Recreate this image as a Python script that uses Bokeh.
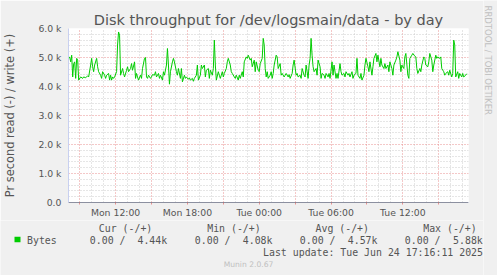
import math
from bokeh.plotting import figure
from bokeh.layouts import column, row
from bokeh.models import Range1d, FixedTicker, Span
from bokeh.core.properties import value
from bokeh.embed import file_html
from bokeh.resources import INLINE

# ---- data (minutes after Mon 08:00, bytes per second written) ----
minutes = [5, 10, 15, 20, 25, 30, 35, 40, 45, 50, 55, 65, 75, 80, 90, 100, 105, 115, 120, 125,
           130, 135, 145, 150, 155, 165, 170, 175, 185, 190, 195, 205, 210, 215, 220, 225, 230, 235, 245, 250,
           255, 260, 265, 275, 280, 285, 295, 300, 305, 315, 320, 325, 335,
           340, 345, 350, 355, 365, 370, 375, 385, 390, 395, 400, 405, 415, 420, 425, 435, 440, 445, 455,
           460, 465, 475, 480, 485, 495, 500, 505, 510, 515, 525, 530, 535, 545, 550, 555, 565, 570, 575,
           585, 590, 595, 605, 610, 615, 625, 630, 635, 645, 650, 655, 665, 670,
           675, 685, 690, 695, 705, 710, 715, 725, 730, 735, 740, 745, 755, 760, 765, 775, 780, 785, 795,
           800, 805, 815, 820, 825, 835, 840, 845, 855, 860, 865, 875, 880, 885, 895, 900, 905, 915, 920,
           925, 935, 940, 945, 955, 960, 965, 975, 980, 985, 990, 995, 1000, 1005, 1015, 1020,
           1025, 1030, 1035, 1045, 1050, 1055, 1065, 1070, 1075, 1085, 1090, 1095, 1105, 1110, 1115, 1125,
           1130, 1135, 1145, 1150, 1155, 1165, 1170, 1175, 1185, 1190, 1195, 1205, 1210, 1215, 1220, 1225,
           1230, 1235, 1245, 1250, 1255, 1265, 1270, 1275, 1285, 1290, 1295, 1305, 1310, 1315, 1325, 1330,
           1335, 1345, 1350, 1355,
           1365, 1370, 1375, 1385, 1390, 1395, 1405, 1410, 1415, 1425, 1430, 1435, 1445, 1450, 1455, 1465,
           1470, 1475, 1485, 1490, 1495, 1505, 1510, 1515, 1525, 1530, 1535, 1545, 1550, 1555, 1565, 1570,
           1575, 1585, 1590, 1595, 1605, 1610, 1615, 1625, 1630, 1635, 1645, 1650, 1655, 1665, 1670, 1675,
           1685, 1690,
           1695, 1705, 1710, 1715, 1725, 1730, 1735, 1745, 1750, 1755, 1765, 1770, 1775, 1785, 1790, 1795,
           1805, 1810, 1815, 1825, 1830, 1835, 1845, 1850, 1855, 1865, 1870, 1875, 1885, 1890, 1895, 1905,
           1910, 1915, 1925, 1930, 1935, 1940, 1945, 1955, 1960, 1965, 1975, 1980, 1985, 1995, 2000]

write_bytes = [4970, 5020, 4850, 5080, 4330, 4790, 4850, 4280, 4970, 4910, 4220, 4330, 4280, 4330, 4300, 4370, 4330, 4740, 4970, 4680,
               4510, 4740, 4970, 4680, 4510, 4390, 4280, 4510, 4390, 4280, 4390, 4450, 4220, 4390, 4220, 4330, 4280, 4330, 4510, 5430,
               5880, 5770, 4390, 4620, 4450, 4330, 4560, 4680, 4510, 4620, 4790, 4560, 4850,
               4280, 4450, 4330, 4220, 4390, 4280, 4620, 4970, 5000, 4330, 4280, 4390, 4280, 4330, 4410, 4390, 4510, 4330, 4450,
               4280, 4390, 4220, 4510, 4390, 4740, 5310, 4740, 4080, 4510, 4850, 4970, 4850, 4510, 4390, 4620, 4280, 4620, 4160,
               4390, 4280, 4330, 4250, 4300, 4220, 4280, 4180, 4280, 4390, 4740, 4220, 4390, 4740,
               4620, 4740, 4330, 4560, 4620, 4280, 4560, 4390, 4620, 5600, 4740, 4220, 4510, 4390, 4280, 4510, 4330, 4450, 4620,
               4850, 4970, 4740, 4510, 4450, 4330, 4280, 4390, 4220, 4390, 4280, 4510, 4330, 4850, 5020, 4970, 5080, 4910, 4970,
               4680, 4910, 4510, 4850, 4560, 4510, 4790, 4970, 5660, 5430, 4620, 4330, 4510, 4280, 4390, 4510,
               4280, 4450, 4740, 5080, 5020, 4620, 4790, 4390, 4450, 4330, 4390, 4450, 4330, 4410, 4280, 4450,
               4740, 4910, 4390, 4450, 4330, 4390, 4280, 4620, 4390, 4330, 4740, 4280, 4740, 4970, 5660, 5080,
               4680, 4510, 4620, 4390, 4910, 4680, 4280, 4450, 4390, 4280, 4450, 4330, 4450, 4280, 4850, 4390,
               4740, 4280, 4450, 4280,
               4790, 4510, 4390, 4450, 4330, 4510, 4390, 4450, 4330, 4510, 4280, 4390, 4450, 4970, 4390, 4280,
               4450, 4220, 4390, 4740, 4970, 4680, 4510, 4850, 4390, 4680, 4970, 5140, 4850, 5080, 4680, 4970,
               4740, 4620, 4790, 4620, 4740, 4510, 4850, 4620, 4390, 4740, 4910, 5020, 5200, 4910, 4510, 4740,
               4620, 5020,
               5140, 4390, 4280, 4970, 5080, 5140, 5080, 5020, 4620, 4450, 4620, 4510, 4740, 5020, 4970, 4740,
               4680, 4850, 5140, 4910, 4510, 4740, 5080, 4970, 5020, 4970, 5020, 4620, 4510, 4390, 4450, 4510,
               4390, 4560, 4330, 4450, 5600, 5430, 4330, 4510, 4280, 4450, 4330, 4450, 4330, 4390, 4440]

x_major_ticks = [60, 240, 420, 600, 780, 960, 1140, 1320, 1500, 1680, 1860]
x_tick_labels = ["", "Mon 12:00", "", "Mon 18:00", "", "Tue 00:00", "", "Tue 06:00", "", "Tue 12:00", ""]
x_minor_ticks = [m for m in range(60, 2010, 60) if m not in x_major_ticks]

y_major_ticks = [0, 1000, 2000, 3000, 4000, 5000, 6000]
y_tick_labels = ["0.0", "1.0 k", "2.0 k", "3.0 k", "4.0 k", "5.0 k", "6.0 k"]
y_minor_ticks = [v for v in range(200, 6000, 200) if v % 1000 != 0]

title_text = "Disk throughput for /dev/logsmain/data - by day"
ylabel_text = "Pr second read (-) / write (+)"
series_name = "Bytes"
series_color = "#00cc00"
legend_heads = ["Cur (-/+)", "Min (-/+)", "Avg (-/+)", "Max (-/+)"]
legend_read = ["0.00 /", "0.00 /", "0.00 /", "0.00 /"]
legend_write = ["4.44k", "4.08k", "4.57k", "5.88k"]
last_update = "Last update: Tue Jun 24 17:16:11 2025"
munin_ver = "Munin 2.0.67"
rrd_text = "RRDTOOL / TOBI OETIKER"

# ---- layout constants ----
BG = "#f0f0f0"
TXT = "#555555"
FONT = "DejaVu Sans"
MONO = "DejaVu Sans Mono"
W, H = 497, 275
WM = 483          # width of main column; right strip holds the RRDTOOL text
MAIN_H = 220
LEG_H = H - MAIN_H


def blank(width, height, xr, yr):
    f = figure(width=width, height=height, output_backend="svg", toolbar_location=None,
               x_range=Range1d(*xr), y_range=Range1d(*yr),
               x_axis_type=None, y_axis_type=None,
               min_border=0, min_border_left=0, min_border_right=0,
               min_border_top=0, min_border_bottom=0)
    f.grid.visible = False
    f.outline_line_color = None
    f.background_fill_color = BG
    f.border_fill_color = BG
    f.frame_align = False
    return f


# ---- main chart ----
X0, X1 = 4, 2009
p = figure(width=WM, height=MAIN_H, output_backend="svg", toolbar_location=None,
           x_range=Range1d(X0, X1), y_range=Range1d(0, 6000),
           min_border_left=67, min_border_right=15, min_border_top=28, min_border_bottom=17)
p.frame_align = False
p.background_fill_color = "#ffffff"
p.border_fill_color = BG
p.outline_line_color = None

p.title.text = title_text
p.title.text_font = FONT
p.title.text_font_size = "14.5px"
p.title.text_font_style = "normal"
p.title.text_color = TXT
p.title.align = "center"
p.title.offset = -19
p.title.standoff = 2

p.xaxis.ticker = FixedTicker(ticks=x_major_ticks, minor_ticks=x_minor_ticks)
p.xaxis.major_label_overrides = {t: s for t, s in zip(x_major_ticks, x_tick_labels)}
p.xaxis.axis_line_color = "#c8d0f0"
p.xaxis.major_tick_line_color = "#e89090"
p.xaxis.major_tick_in = 0
p.xaxis.major_tick_out = 2
p.xaxis.minor_tick_out = 0
p.xaxis.minor_tick_in = 0
p.xaxis.major_label_standoff = 2
p.xaxis.major_label_text_font = FONT
p.xaxis.major_label_text_font_size = "9.3px"
p.xaxis.major_label_text_color = TXT

p.yaxis.ticker = FixedTicker(ticks=y_major_ticks, minor_ticks=y_minor_ticks)
p.yaxis.major_label_overrides = {t: s for t, s in zip(y_major_ticks, y_tick_labels)}
p.yaxis.axis_line_color = "#c8d0f0"
p.yaxis.major_tick_in = 0
p.yaxis.major_tick_out = 0
p.yaxis.minor_tick_out = 0
p.yaxis.minor_tick_in = 0
p.yaxis.major_label_standoff = 7
p.yaxis.major_label_text_font = FONT
p.yaxis.major_label_text_font_size = "9.3px"
p.yaxis.major_label_text_color = TXT
p.yaxis.axis_label = ylabel_text
p.yaxis.axis_label_text_font = FONT
p.yaxis.axis_label_text_font_size = "11.4px"
p.yaxis.axis_label_text_font_style = "normal"
p.yaxis.axis_label_text_color = TXT
p.yaxis.axis_label_standoff = 18

for g in (p.xgrid, p.ygrid):
    g.grid_line_color = "#e89090"
    g.grid_line_dash = "1 2"
    g.grid_line_width = 1
    g.minor_grid_line_color = "#cccccc"
    g.minor_grid_line_dash = "1 2"
    g.minor_grid_line_width = 1

p.add_layout(Span(location=0, dimension="width", line_color="#505050", line_width=1))
p.line(minutes, write_bytes, line_color=series_color, line_width=1)

# ---- legend strip (canvas pixel coordinates) ----
leg = blank(WM, LEG_H, (0, WM), (H, H - LEG_H))
mono_kw = dict(text_font=value(MONO), text_font_size="9.9px", text_color=TXT, text_baseline="middle")
leg.text(x=[98.3, 206.7, 315, 422.7], y=[227.5] * 4, text=legend_heads, text_align="left", **mono_kw)
leg.rect(x=[17], y=[239], width=6, height=5.5, fill_color=series_color, line_color=None)
leg.text(x=[26.5], y=[240], text=[series_name], text_align="left", **mono_kw)
leg.text(x=[89.3, 194.3, 299.3, 404.3], y=[240] * 4, text=legend_read, text_align="left", **mono_kw)
leg.text(x=[166.7, 272, 377, 482.3], y=[240] * 4, text=legend_write, text_align="right", **mono_kw)
leg.text(x=[482.5], y=[251.5], text=[last_update], text_align="right", **mono_kw)
leg.text(x=[248], y=[263.5], text=[munin_ver], text_font=value(FONT), text_font_size="7.6px",
         text_color="#c0c0c0", text_align="center", text_baseline="middle")

# ---- right strip with the vertical RRDtool credit ----
side = blank(W - WM, H, (WM, W), (H, 0))
side.text(x=[487.5], y=[5], text=[rrd_text], text_font=value(FONT), text_font_size="8.5px",
          text_color="#c0c0c0", text_align="left", text_baseline="middle", angle=-math.pi / 2)

layout = row(column(p, leg, spacing=0), side, spacing=0)
open("out.html", "w").write(file_html(layout, INLINE))
